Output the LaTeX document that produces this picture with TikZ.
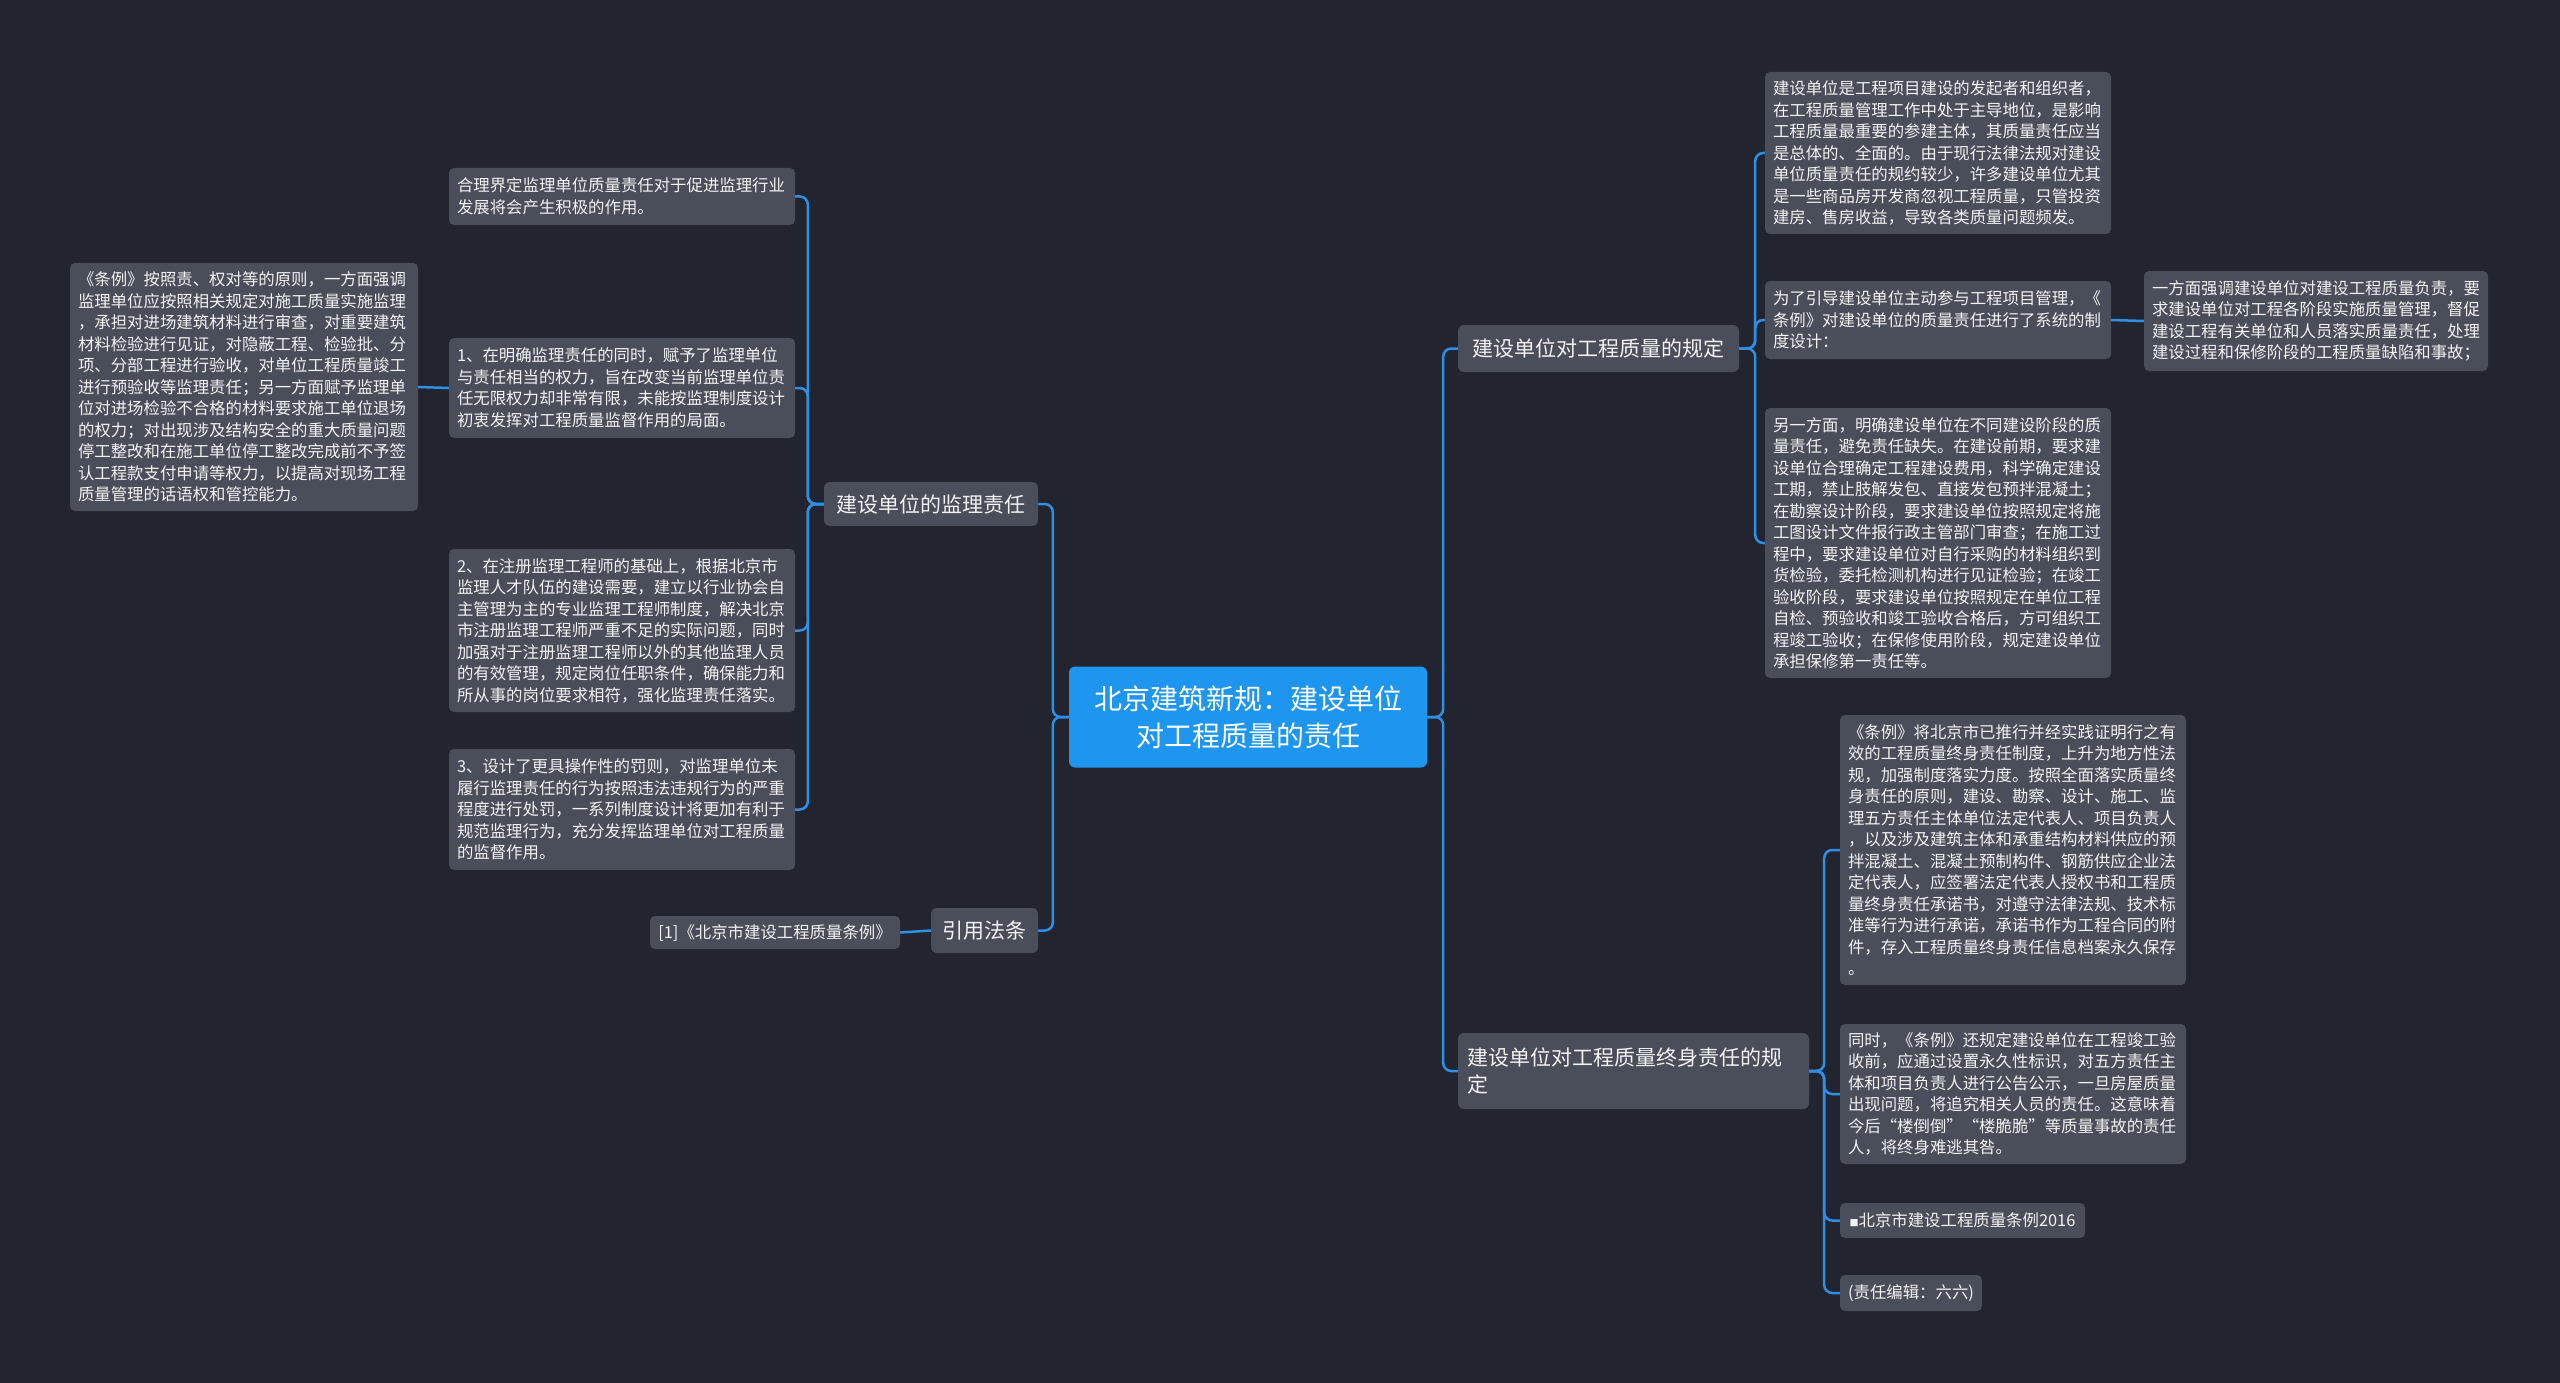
\documentclass[tikz,border=0pt]{standalone}
\usepackage{fontspec}
\setmainfont{Noto Sans CJK SC}
\definecolor{bg}{HTML}{22252F}
\definecolor{boxc}{HTML}{4A4E5B}
\definecolor{rootc}{HTML}{1E96F0}
\definecolor{linec}{HTML}{2E8FE4}
\definecolor{txt}{HTML}{F2F2F2}
\begin{document}
\begin{tikzpicture}[x=1pt,y=-1pt,
  leaf/.style={fill=boxc, rounded corners=5pt, text=txt, font=\fontsize{16.4}{21.5}\selectfont, align=left, inner xsep=8pt, inner ysep=0pt, anchor=center},
  branch/.style={fill=boxc, rounded corners=6pt, text=txt, font=\fontsize{21}{27}\selectfont, align=left, inner xsep=9pt, inner ysep=0pt, anchor=center},
  rootbox/.style={fill=rootc, rounded corners=6pt, text=white, font=\fontsize{28}{37}\selectfont, align=center, inner sep=0pt, anchor=center},
  conn/.style={draw=linec, line width=2.5pt, rounded corners=8pt}]
\fill[bg] (0,0) rectangle (2560,1383);
\useasboundingbox (0,0) rectangle (2560,1383);

% root
\node[rootbox, minimum width=358, minimum height=101] (root) at (1248,717) {北京建筑新规：建设单位\\对工程质量的责任};

% left branches
\node[branch, minimum width=214, minimum height=44, align=center] (b1) at (931,504) {建设单位的监理责任};
\node[branch, minimum width=107, minimum height=45, align=center] (b2) at (984.5,930.5) {引用法条};
\node[leaf, minimum width=250, minimum height=33] (r1) at (775,932.5) {[1]《北京市建设工程质量条例》};

\node[leaf, text width=330, minimum height=57] (l0) at (622,196.5) {合理界定监理单位质量责任对于促进监理行业\\发展将会产生积极的作用。};
\node[leaf, text width=330, minimum height=100] (l1) at (622,388) {1、在明确监理责任的同时，赋予了监理单位\\与责任相当的权力，旨在改变当前监理单位责\\任无限权力却非常有限，未能按监理制度设计\\初衷发挥对工程质量监督作用的局面。};
\node[leaf, text width=332, minimum height=248] (l1a) at (244,387) {《条例》按照责、权对等的原则，一方面强调\\监理单位应按照相关规定对施工质量实施监理\\，承担对进场建筑材料进行审查，对重要建筑\\材料检验进行见证，对隐蔽工程、检验批、分\\项、分部工程进行验收，对单位工程质量竣工\\进行预验收等监理责任；另一方面赋予监理单\\位对进场检验不合格的材料要求施工单位退场\\的权力；对出现涉及结构安全的重大质量问题\\停工整改和在施工单位停工整改完成前不予签\\认工程款支付申请等权力，以提高对现场工程\\质量管理的话语权和管控能力。};
\node[leaf, text width=330, minimum height=163] (l2) at (622,630.5) {2、在注册监理工程师的基础上，根据北京市\\监理人才队伍的建设需要，建立以行业协会自\\主管理为主的专业监理工程师制度，解决北京\\市注册监理工程师严重不足的实际问题，同时\\加强对于注册监理工程师以外的其他监理人员\\的有效管理，规定岗位任职条件，确保能力和\\所从事的岗位要求相符，强化监理责任落实。};
\node[leaf, text width=330, minimum height=121] (l3) at (622,809.5) {3、设计了更具操作性的罚则，对监理单位未\\履行监理责任的行为按照违法违规行为的严重\\程度进行处罚，一系列制度设计将更加有利于\\规范监理行为，充分发挥监理单位对工程质量\\的监督作用。};

% right branches
\node[branch, minimum width=281, minimum height=47, align=center] (b3) at (1598.5,348.5) {建设单位对工程质量的规定};
\node[leaf, text width=330, minimum height=162] (c1) at (1938,153) {建设单位是工程项目建设的发起者和组织者，\\在工程质量管理工作中处于主导地位，是影响\\工程质量最重要的参建主体，其质量责任应当\\是总体的、全面的。由于现行法律法规对建设\\单位质量责任的规约较少，许多建设单位尤其\\是一些商品房开发商忽视工程质量，只管投资\\建房、售房收益，导致各类质量问题频发。};
\node[leaf, text width=330, minimum height=78] (c2) at (1938,320) {为了引导建设单位主动参与工程项目管理，《\\条例》对建设单位的质量责任进行了系统的制\\度设计：};
\node[leaf, text width=328, minimum height=100] (c2a) at (2316,321) {一方面强调建设单位对建设工程质量负责，要\\求建设单位对工程各阶段实施质量管理，督促\\建设工程有关单位和人员落实质量责任，处理\\建设过程和保修阶段的工程质量缺陷和事故；};
\node[leaf, text width=330, minimum height=270] (c3) at (1938,543) {另一方面，明确建设单位在不同建设阶段的质\\量责任，避免责任缺失。在建设前期，要求建\\设单位合理确定工程建设费用，科学确定建设\\工期，禁止肢解发包、直接发包预拌混凝土；\\在勘察设计阶段，要求建设单位按照规定将施\\工图设计文件报行政主管部门审查；在施工过\\程中，要求建设单位对自行采购的材料组织到\\货检验，委托检测机构进行见证检验；在竣工\\验收阶段，要求建设单位按照规定在单位工程\\自检、预验收和竣工验收合格后，方可组织工\\程竣工验收；在保修使用阶段，规定建设单位\\承担保修第一责任等。};

\node[branch, text width=333, minimum height=76] (b4) at (1633.5,1071) {建设单位对工程质量终身责任的规\\定};
\node[leaf, text width=330, minimum height=270] (d1) at (2013,850) {《条例》将北京市已推行并经实践证明行之有\\效的工程质量终身责任制度，上升为地方性法\\规，加强制度落实力度。按照全面落实质量终\\身责任的原则，建设、勘察、设计、施工、监\\理五方责任主体单位法定代表人、项目负责人\\，以及涉及建筑主体和承重结构材料供应的预\\拌混凝土、混凝土预制构件、钢筋供应企业法\\定代表人，应签署法定代表人授权书和工程质\\量终身责任承诺书，对遵守法律法规、技术标\\准等行为进行承诺，承诺书作为工程合同的附\\件，存入工程质量终身责任信息档案永久保存\\。};
\node[leaf, text width=330, minimum height=140] (d2) at (2013,1094) {同时，《条例》还规定建设单位在工程竣工验\\收前，应通过设置永久性标识，对五方责任主\\体和项目负责人进行公告公示，一旦房屋质量\\出现问题，将追究相关人员的责任。这意味着\\今后“楼倒倒”“楼脆脆”等质量事故的责任\\人，将终身难逃其咎。};
\node[leaf, minimum width=245, minimum height=35] (d3) at (1962.5,1220.5) {{\fontsize{9}{9}\selectfont ■}北京市建设工程质量条例2016};
\node[leaf, minimum width=142, minimum height=36] (d4) at (1911,1293) {(责任编辑：六六)};

% connectors
\draw[conn] (root.west) -- ++(-16,0) |- (b1.east);
\draw[conn] (root.west) -- ++(-16,0) |- (b2.east);
\draw[conn] (b2.west) -- (r1.east);
\draw[conn] (b1.west) -- ++(-16,0) |- (l0.east);
\draw[conn] (b1.west) -- ++(-16,0) |- (l1.east);
\draw[conn] (b1.west) -- ++(-16,0) |- (l2.east);
\draw[conn] (b1.west) -- ++(-16,0) |- (l3.east);
\draw[conn] (l1.west) -- (l1a.east);

\draw[conn] (root.east) -- ++(16,0) |- (b3.west);
\draw[conn] (root.east) -- ++(16,0) |- (b4.west);
\draw[conn] (b3.east) -- ++(16,0) |- (c1.west);
\draw[conn] (b3.east) -- ++(16,0) |- (c2.west);
\draw[conn] (b3.east) -- ++(16,0) |- (c3.west);
\draw[conn] (c2.east) -- (c2a.west);
\draw[conn] (b4.east) -- ++(15,0) |- (d1.west);
\draw[conn] (b4.east) -- ++(15,0) |- (d2.west);
\draw[conn] (b4.east) -- ++(15,0) |- (d3.west);
\draw[conn] (b4.east) -- ++(15,0) |- (d4.west);
\end{tikzpicture}
\end{document}
